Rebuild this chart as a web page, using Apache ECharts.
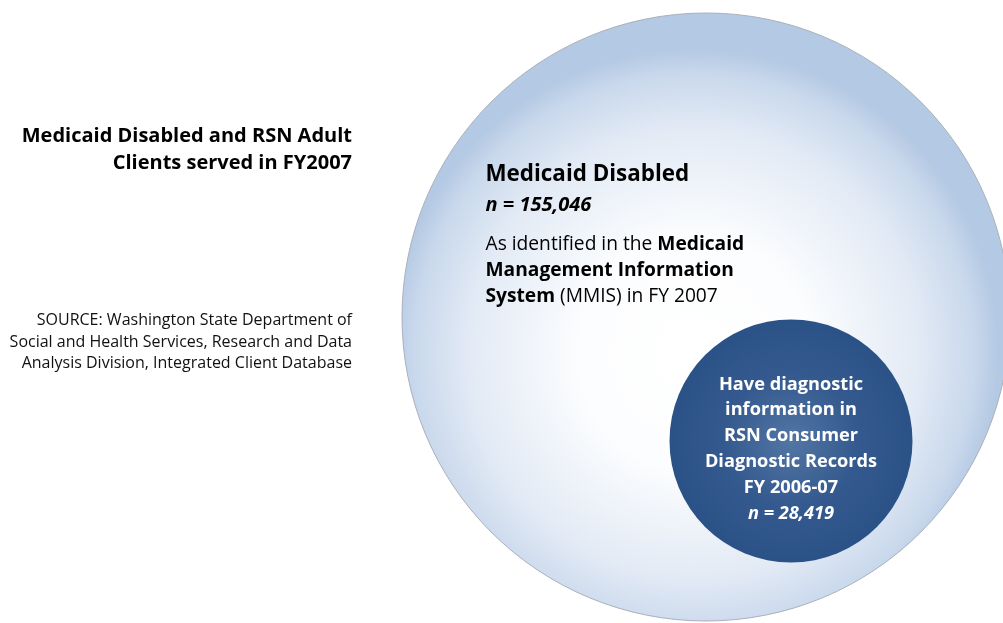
<!DOCTYPE html>
<html>
<head>
<meta charset="utf-8">
<script src="https://cdn.jsdelivr.net/npm/echarts@6/dist/echarts.min.js"></script>
<style>
  html, body { margin: 0; padding: 0; background: #fff; }
  #chart { width: 1003px; height: 623px; }
</style>
</head>
<body>
<div id="chart"></div>
<script>
// client groups shown as nested circles
const groupNames = ['Medicaid Disabled', 'RSN Consumer Diagnostic Records']
const groupCounts = [155046, 28419]
// circle centres in the diagram's own units (x: 0-1003, y: 0-623 from top)
const centreX = [706, 791]
const centreY = [317, 441]

const fmt = n => n.toLocaleString('en-US')
const font = '"Open Sans", sans-serif'

const chart = echarts.init(document.getElementById('chart'))

const option = {
  backgroundColor: '#ffffff',
  animation: false,
  title: [
    {
      text: 'Medicaid Disabled and RSN Adult\nClients served in FY2007',
      left: 352,
      top: 123,
      padding: 0,
      textAlign: 'right',
      textStyle: {
        fontFamily: font,
        fontSize: 20,
        fontWeight: 'bold',
        color: '#000',
        lineHeight: 27
      }
    },
    {
      text: 'SOURCE: Washington State Department of\nSocial and Health Services, Research and Data\nAnalysis Division, Integrated Client Database',
      left: 352,
      top: 310,
      padding: 0,
      textAlign: 'right',
      textStyle: {
        fontFamily: font,
        fontSize: 16,
        fontWeight: 'normal',
        color: '#111',
        lineHeight: 21.5
      }
    }
  ],
  grid: { left: 0, right: 0, top: 0, bottom: 0 },
  xAxis: { type: 'value', min: 0, max: 1003, show: false },
  yAxis: { type: 'value', min: 0, max: 623, inverse: true, show: false },
  series: [
    {
      type: 'scatter',
      clip: false,
      itemStyle: { opacity: 1 },
      data: [
        {
          name: groupNames[0],
          value: [centreX[0], centreY[0], groupCounts[0]],
          symbolSize: 608,
          itemStyle: {
            opacity: 1,
            color: {
              type: 'radial', x: 0.48, y: 0.56, r: 0.5,
              colorStops: [
                { offset: 0, color: '#ffffff' },
                { offset: 0.38, color: '#fcfdfe' },
                { offset: 0.74, color: '#e2eaf5' },
                { offset: 0.92, color: '#c9d8ec' },
                { offset: 1, color: '#b4c9e3' }
              ]
            },
            borderColor: '#a9b1bb',
            borderWidth: 1
          },
          label: {
            show: true,
            position: [84, 146.5],
            color: '#000',
            formatter: [
              '{h|' + groupNames[0] + '}',
              '{n|n = ' + fmt(groupCounts[0]) + '}',
              '{gap|}',
              '{t|As identified in the }{b|Medicaid}',
              '{b|Management Information}',
              '{b|System}{t| (MMIS) in FY 2007}'
            ].join('\n'),
            rich: {
              h: { fontFamily: font, fontSize: 22.4, fontWeight: 'bold', color: '#000', lineHeight: 31 },
              n: { fontFamily: font, fontSize: 20, fontWeight: 'bold', fontStyle: 'italic', color: '#000', lineHeight: 30 },
              gap: { fontSize: 6, lineHeight: 12 },
              t: { fontFamily: font, fontSize: 19.2, color: '#000', lineHeight: 26 },
              b: { fontFamily: font, fontSize: 19.2, fontWeight: 'bold', color: '#000', lineHeight: 26 }
            }
          }
        },
        {
          name: groupNames[1],
          value: [centreX[1], centreY[1], groupCounts[1]],
          symbolSize: 243,
          itemStyle: {
            opacity: 1,
            color: {
              type: 'radial', x: 0.5, y: 0.5, r: 0.5,
              colorStops: [
                { offset: 0, color: '#5276a4' },
                { offset: 0.55, color: '#34598e' },
                { offset: 1, color: '#2b5287' }
              ]
            }
          },
          label: {
            show: true,
            position: 'inside',
            offset: [0, 8],
            align: 'center',
            color: '#fff',
            formatter: [
              '{b|Have diagnostic}',
              '{b|information in}',
              '{b|RSN Consumer}',
              '{b|Diagnostic Records}',
              '{b|FY 2006-07}',
              '{i|n = ' + fmt(groupCounts[1]) + '}'
            ].join('\n'),
            rich: {
              b: { fontFamily: font, fontSize: 18.2, fontWeight: 'bold', color: '#fff', lineHeight: 25.8, align: 'center' },
              i: { fontFamily: font, fontSize: 18.2, fontWeight: 'bold', fontStyle: 'italic', color: '#fff', lineHeight: 25.8, align: 'center' }
            }
          }
        }
      ]
    }
  ]
}

chart.setOption(option)
</script>
</body>
</html>
